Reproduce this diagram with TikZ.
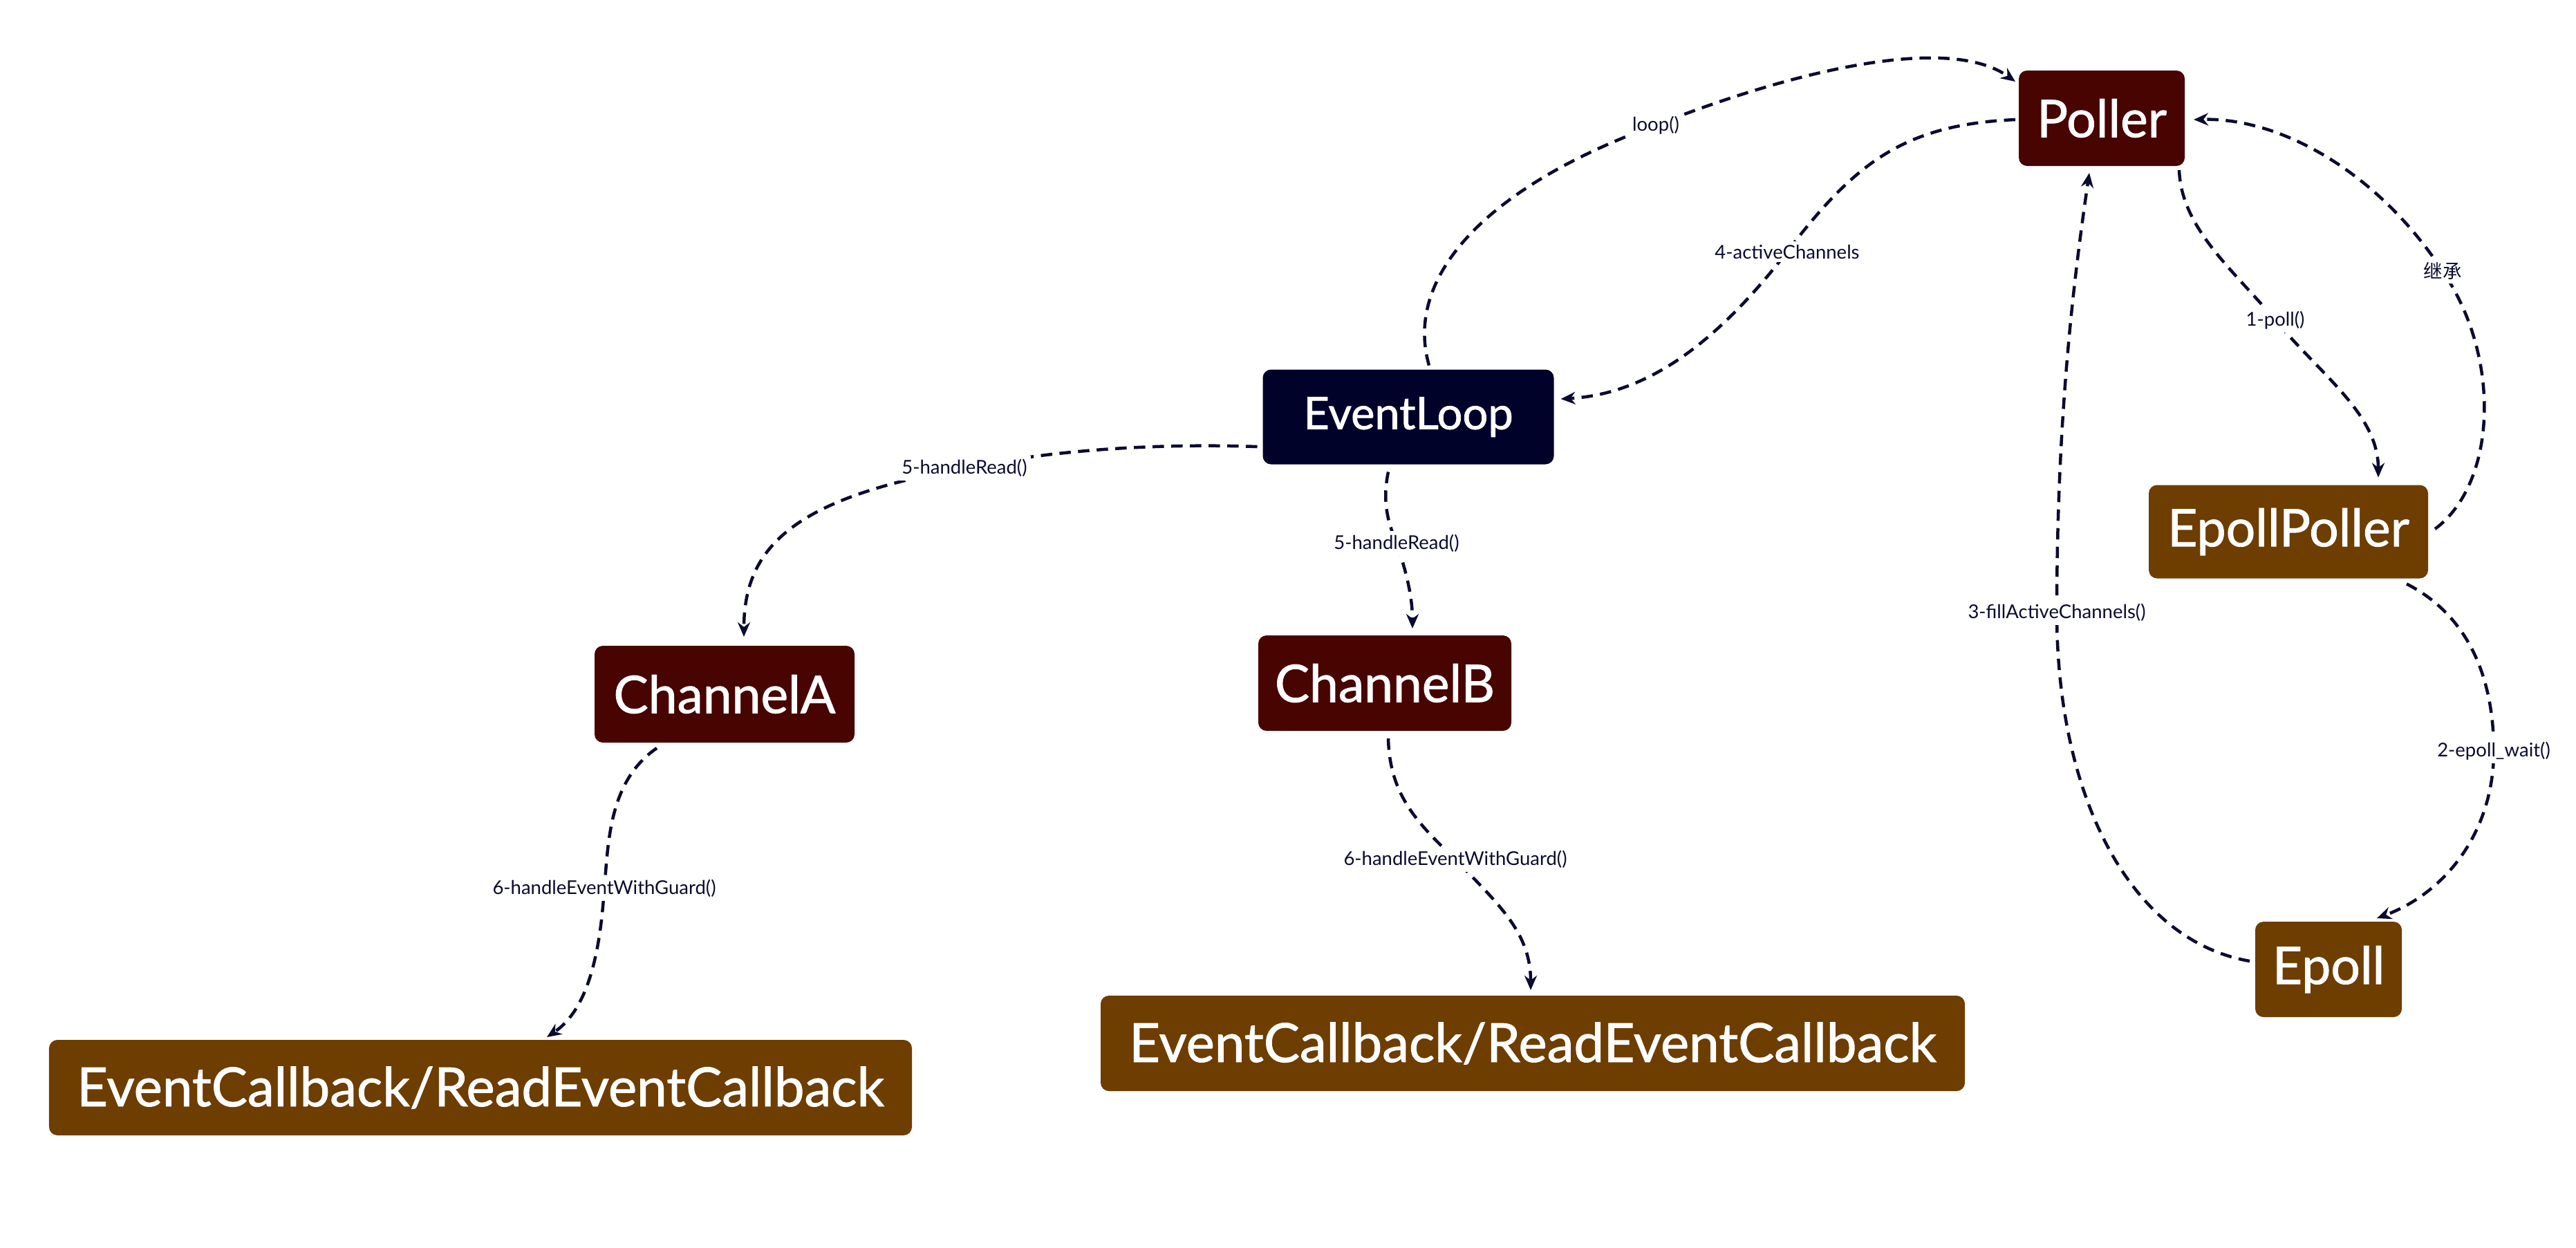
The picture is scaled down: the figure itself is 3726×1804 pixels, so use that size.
\documentclass[tikz,border=0pt]{standalone}
\usepackage{fontspec}
\setmainfont{Lato}
\newfontfamily\boxfont{Lato}[FakeBold=1.2]
\newfontfamily\cjk{Noto Sans CJK SC}
\usetikzlibrary{arrows.meta,calc}
\definecolor{redbox}{HTML}{470400}
\definecolor{brownbox}{HTML}{6E3D00}
\definecolor{navybox}{HTML}{00022A}
\definecolor{linec}{HTML}{0B0B30}
\begin{document}
\begin{tikzpicture}[x=0.2pt,y=-0.2pt,
  nodebox/.style={rounded corners=2.4pt, inner sep=0pt, text=white, font=\boxfont\fontsize{15}{18}\selectfont, minimum height=27.6pt},
  conn/.style={draw=linec, line width=0.9pt, dash pattern=on 3.3pt off 2.1pt, -{Stealth[length=4.2pt,width=3.6pt]}},
  lbl/.style={fill=white, inner sep=1pt, text=linec, font=\fontsize{5.5}{6.6}\selectfont}]
\useasboundingbox[fill=white] (0,0) rectangle (3726,1804);

% nodes
\node[nodebox, fill=redbox, minimum width=48pt] (poller) at (3040,171) {Poller};
\node[nodebox, fill=navybox, minimum width=84.2pt, minimum height=27.4pt, font=\boxfont\fontsize{13}{16}\selectfont] (evl) at (2037,603) {EventLoop};
\node[nodebox, fill=brownbox, minimum width=80.8pt, minimum height=27pt] (epp) at (3310,769) {EpollPoller};
\node[nodebox, fill=redbox, minimum width=75.2pt, minimum height=28pt] (cha) at (1048,1004) {ChannelA};
\node[nodebox, fill=redbox, minimum width=73.2pt] (chb) at (2003,988) {ChannelB};
\node[nodebox, fill=brownbox, minimum width=42.4pt] (epoll) at (3368,1402) {Epoll};
\node[nodebox, fill=brownbox, minimum width=249.6pt, font=\boxfont\fontsize{15.6}{18}\selectfont] (cba) at (695,1573) {EventCallback/ReadEventCallback};
\node[nodebox, fill=brownbox, minimum width=250pt, font=\boxfont\fontsize{15.6}{18}\selectfont] (cbb) at (2217,1509) {EventCallback/ReadEventCallback};

% connectors
\draw[conn] ($(evl.north)+(30,-5)$) .. controls (2030,400) and (2150,270) .. (2395,181)
  node[lbl] {loop()}
  .. controls (2600,100) and (2820,50) .. ($(poller.north west)+(-4,17)$);

\draw[conn] ($(poller.west)+(-4,2)$) .. controls (2750,180) and (2680,240) .. (2585,364)
  node[lbl] {4-activeChannels}
  .. controls (2480,500) and (2380,570) .. ($(evl.east)+(9,-26)$);

\draw[conn] ($(poller.south east)+(-9,5)$) .. controls (3155,330) and (3230,390) .. (3291,463)
  node[lbl] {1-poll()}
  .. controls (3360,545) and (3440,600) .. ($(epp.north)+(130,-10)$);

\draw[conn] ($(epp.east)+(9,-4)$) .. controls (3610,700) and (3620,520) .. (3533,392)
  node[lbl] {\cjk 继承}
  .. controls (3440,250) and (3300,170) .. ($(poller.east)+(12,2)$);

\draw[conn] ($(epp.south)+(171,7)$) .. controls (3570,890) and (3607,980) .. (3607,1086)
  node[lbl] {2-epoll\_wait()}
  .. controls (3607,1200) and (3540,1290) .. ($(epoll.north)+(70,-4)$);

\draw[conn] ($(epoll.west)+(-7,-12)$) .. controls (3080,1360) and (2975,1150) .. (2975,886)
  node[lbl] {3-fillActiveChannels()}
  .. controls (2975,600) and (3000,400) .. ($(poller.south)+(-18,9)$);

\draw[conn] ($(evl.west)+(-7,43)$) .. controls (1650,640) and (1500,655) .. (1395,677)
  node[lbl] {5-handleRead()}
  .. controls (1150,720) and (1076,790) .. ($(cha.north)+(28,-12)$);

\draw[conn] ($(evl.south)+(-29,10)$) .. controls (1998,730) and (2010,760) .. (2020,786)
  node[lbl] {5-handleRead()}
  .. controls (2032,820) and (2043,860) .. ($(chb.north)+(40,-9)$);

\draw[conn] ($(cha.south)+(-98,7)$) .. controls (880,1130) and (880,1220) .. (874,1285)
  node[lbl] {6-handleEventWithGuard()}
  .. controls (868,1380) and (850,1460) .. ($(cba.north)+(96,-3)$);

\draw[conn] ($(chb.south)+(5,10)$) .. controls (2010,1150) and (2050,1190) .. (2105,1243)
  node[lbl] {6-handleEventWithGuard()}
  .. controls (2170,1310) and (2214,1350) .. ($(cbb.north)+(-3,-7)$);
\end{tikzpicture}
\end{document}
